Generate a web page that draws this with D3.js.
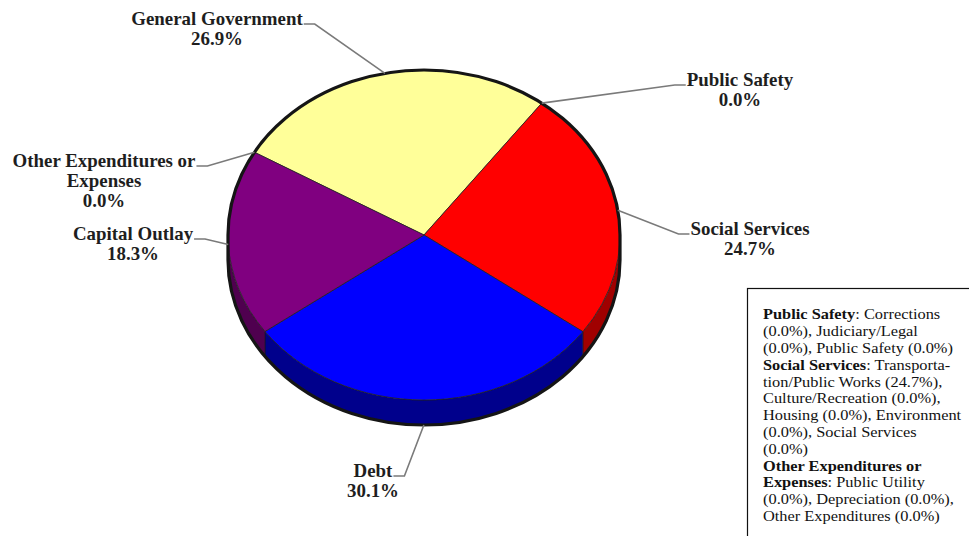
<!DOCTYPE html>
<html>
<head>
<meta charset="utf-8">
<script src="https://cdn.jsdelivr.net/npm/d3@7"></script>
<style>
  html, body { margin: 0; padding: 0; background: #ffffff; }
  svg { display: block; }
</style>
</head>
<body>
<svg id="chart" width="969" height="536"></svg>
<script>
// ---------------- DATA ----------------
const categories = ["General Government", "Public Safety", "Social Services", "Debt", "Capital Outlay", "Other Expenditures or Expenses"];
const values = [26.9, 0.0, 24.7, 30.1, 18.3, 0.0];
const labelNames = [["General Government"], ["Public Safety"], ["Social Services"], ["Debt"], ["Capital Outlay"], ["Other Expenditures or", "Expenses"]];
const topColors = ["#FFFF99", "#FF0000", "#FF0000", "#0000FF", "#800080", "#800080"];
const sideColors = ["#8c8c4d", "#a00000", "#a00000", "#00008c", "#4f004f", "#4f004f"];

// legend notes: each line is a list of [text, bold]
const noteLines = [
  [["Public Safety", true], [": Corrections", false]],
  [["(0.0%), Judiciary/Legal", false]],
  [["(0.0%), Public Safety (0.0%)", false]],
  [["Social Services", true], [": Transporta-", false]],
  [["tion/Public Works (24.7%),", false]],
  [["Culture/Recreation (0.0%),", false]],
  [["Housing (0.0%), Environment", false]],
  [["(0.0%), Social Services", false]],
  [["(0.0%)", false]],
  [["Other Expenditures or", true]],
  [["Expenses", true], [": Public Utility", false]],
  [["(0.0%), Depreciation (0.0%),", false]],
  [["Other Expenditures (0.0%)", false]]
];

// ---------------- LAYOUT ----------------
const cx = 424, cy = 235, rx = 196, ry = 165, depth = 25;
const startDeg = -59.9;
// label anchor (text centre x, first baseline y)
const labelPos = [[217, 25], [740, 86], [750, 235], [373, 477], [133, 240], [104, 167]];
const lineH = 20;
const labelStretch = 1.05, noteStretch = 1.17;
const fontFam = "'Times New Roman', 'Liberation Serif', serif";

const svg = d3.select("#chart");
const fmt = d3.format(".1f");

const pie = d3.pie().sort(null).value(d => d)
  .startAngle(startDeg * Math.PI / 180)
  .endAngle(startDeg * Math.PI / 180 + 2 * Math.PI);
const arcs = pie(values);

function P(a, dz = 0) {
  return [cx + rx * Math.sin(a), cy - ry * Math.cos(a) + dz];
}

// sides (front half only)
const gSide = svg.append("g");
arcs.forEach((d, i) => {
  if (d.value <= 0) return;
  [-2 * Math.PI, 0, 2 * Math.PI].forEach(shift => {
    const a0 = Math.max(d.startAngle + shift, Math.PI / 2);
    const a1 = Math.min(d.endAngle + shift, 3 * Math.PI / 2);
    if (a1 - a0 <= 1e-6) return;
    const p0 = P(a0), p1 = P(a1), q1 = P(a1, depth), q0 = P(a0, depth);
    const path = `M${p0[0]},${p0[1]} A${rx},${ry} 0 0 1 ${p1[0]},${p1[1]} L${q1[0]},${q1[1]} A${rx},${ry} 0 0 0 ${q0[0]},${q0[1]} Z`;
    gSide.append("path").attr("d", path)
      .attr("fill", sideColors[i]).attr("stroke", "#1a1a1a").attr("stroke-width", 0.6);
  });
});

// top faces
const gTop = svg.append("g");
arcs.forEach((d, i) => {
  if (d.value <= 0) return;
  const p0 = P(d.startAngle), p1 = P(d.endAngle);
  const large = (d.endAngle - d.startAngle) > Math.PI ? 1 : 0;
  const path = `M${cx},${cy} L${p0[0]},${p0[1]} A${rx},${ry} 0 ${large} 1 ${p1[0]},${p1[1]} Z`;
  gTop.append("path").attr("d", path)
    .attr("fill", topColors[i]).attr("stroke", "#222").attr("stroke-width", 0.8)
    .attr("stroke-linejoin", "round");
});

// silhouette outline
{
  const l = P(3 * Math.PI / 2), r = P(Math.PI / 2), rb = P(Math.PI / 2, depth), lb = P(3 * Math.PI / 2, depth);
  svg.append("path")
    .attr("d", `M${l[0]},${l[1]} A${rx},${ry} 0 0 1 ${r[0]},${r[1]} L${rb[0]},${rb[1]} A${rx},${ry} 0 0 1 ${lb[0]},${lb[1]} Z`)
    .attr("fill", "none").attr("stroke", "#151515").attr("stroke-width", 3.2);
}

// labels with leader lines
const gLab = svg.append("g");
arcs.forEach((d, i) => {
  const mid = (d.startAngle + d.endAngle) / 2;
  const tip = P(mid, depth * Math.max(0, -Math.cos(mid)));
  const [lx, ly] = labelPos[i];
  const lines = labelNames[i].concat([fmt(values[i]) + "%"]);
  const t = gLab.append("text")
    .attr("transform", `translate(${lx},${ly}) scale(${labelStretch},1)`)
    .attr("font-family", fontFam).attr("font-weight", "bold").attr("font-size", 18)
    .attr("fill", "#1e1e1e").attr("text-anchor", "middle");
  lines.forEach((s, k) => {
    t.append("tspan").attr("x", 0).attr("y", k * lineH).text(s);
  });
  const firstW = t.select("tspan").node().getComputedTextLength() * labelStretch;
  const onLeft = tip[0] > lx;
  const sx = onLeft ? lx + firstW / 2 + 1 : lx - firstW / 2 - 1;
  const ex = onLeft ? sx + 11 : sx - 11;
  const sy = ly - 1;
  gLab.insert("path", ":first-child")
    .attr("d", `M${sx},${sy} L${ex},${sy} L${tip[0]},${tip[1]}`)
    .attr("fill", "none").attr("stroke", "#7a7a7a").attr("stroke-width", 1.6);
});

// notes box
const gNote = svg.append("g");
gNote.append("rect").attr("x", 747.5).attr("y", 288.5).attr("width", 260).attr("height", 280)
  .attr("fill", "#ffffff").attr("stroke", "#111").attr("stroke-width", 1.2);
noteLines.forEach((segs, k) => {
  const t = gNote.append("text")
    .attr("transform", `translate(763,${319.3 + k * 16.8}) scale(${noteStretch},1)`)
    .attr("font-family", fontFam).attr("font-size", 14).attr("fill", "#111");
  segs.forEach(([s, b]) => {
    t.append("tspan").attr("font-weight", b ? "bold" : "normal").text(s);
  });
});
</script>
</body>
</html>
